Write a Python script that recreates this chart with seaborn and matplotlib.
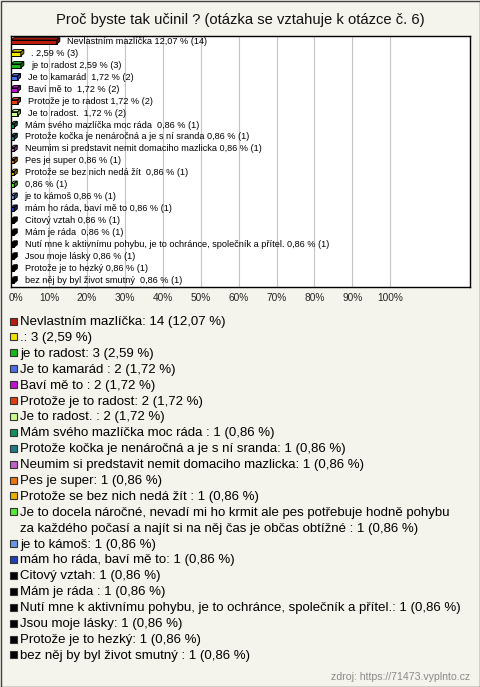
import textwrap
import numpy as np
import pandas as pd
import seaborn as sns
import matplotlib
matplotlib.use("Agg")
import matplotlib.pyplot as plt
from matplotlib.patches import Polygon, Rectangle
from matplotlib.transforms import ScaledTranslation

# ---------------- data ----------------
title = "Proč byste tak učinil ? (otázka se vztahuje k otázce č. 6)"
categories = [
    "Nevlastním mazlíčka",
    ".",
    "je to radost",
    "Je to kamarád ",
    "Baví mě to ",
    "Protože je to radost",
    "Je to radost. ",
    "Mám svého mazlíčka moc ráda ",
    "Protože kočka je nenáročná a je s ní sranda",
    "Neumim si predstavit nemit domaciho mazlicka",
    "Pes je super",
    "Protože se bez nich nedá žít ",
    "Je to docela náročné, nevadí mi ho krmit ale pes potřebuje hodně pohybu za každého počasí a najít si na něj čas je občas obtížné ",
    "je to kámoš",
    "mám ho ráda, baví mě to",
    "Citový vztah",
    "Mám je ráda ",
    "Nutí mne k aktivnímu pohybu, je to ochránce, společník a přítel.",
    "Jsou moje lásky",
    "Protože je to hezký",
    "bez něj by byl život smutný ",
]
# names as printed next to the bars (the long answer is shown without its text)
bar_names = list(categories)
bar_names[12] = ""
counts = [14, 3, 3, 2, 2, 2, 2, 1, 1, 1, 1, 1, 1, 1, 1, 1, 1, 1, 1, 1, 1]
percents = [12.07, 2.59, 2.59, 1.72, 1.72, 1.72, 1.72, 0.86, 0.86, 0.86, 0.86,
            0.86, 0.86, 0.86, 0.86, 0.86, 0.86, 0.86, 0.86, 0.86, 0.86]
colors = ["#B81D0D", "#F2E200", "#17B817", "#4A70E8", "#C013D3", "#E0400D",
          "#C8FF8A", "#139060", "#207A8A", "#C060C8", "#E87510", "#E8B000",
          "#58E838", "#6A96E8", "#2040B8", "#000000", "#000000", "#000000",
          "#000000", "#000000", "#000000"]
tick_values = list(range(0, 101, 10))
tick_labels = [f"{t}%" for t in tick_values]
source = "zdroj: https://71473.vyplnto.cz"

# ---------------- style ----------------
BG = "#F4F3EC"
W, H = 480, 687
sns.set_theme(style="white")
plt.rcParams["font.family"] = ["Liberation Sans", "DejaVu Sans"]

def fx(px):
    return px / W

def fy(py):
    return 1 - py / H

fig = plt.figure(figsize=(W / 100, H / 100), dpi=100, facecolor=BG)
ax = fig.add_axes([fx(11), fy(287), (470 - 11) / W, (287 - 36) / H])
ax.set_facecolor("white")

fmt = lambda v: f"{v:.2f}".replace(".", ",")
df = pd.DataFrame({"key": [f"r{i}" for i in range(len(categories))],
                   "pct": percents})
sns.barplot(data=df, x="pct", y="key", hue="key", palette=colors,
            legend=False, orient="h", width=0.32, saturation=1,
            edgecolor="black", linewidth=0.7, ax=ax, zorder=3)

ax.set_xlim(0, 121)
ax.set_ylim(len(categories) - 0.5, -0.5)
ax.set_xticks(tick_values)
ax.set_xticklabels(tick_labels, fontsize=7.3)
ax.set_yticks([])
ax.set_xlabel("")
ax.set_ylabel("")
ax.tick_params(axis="x", length=0, pad=4)
ax.grid(axis="x", color="#C4C4C4", lw=0.8)
ax.set_axisbelow(True)
for s in ax.spines.values():
    s.set_color("black")
    s.set_linewidth(1)

# nudge the 0% tick label right like in the original
lab0 = ax.get_xticklabels()[0]
lab0.set_transform(lab0.get_transform() + ScaledTranslation(0.05, 0, fig.dpi_scale_trans))

# 3D depth for each bar
dx = 3 * 121 / 459
dy = 2.4 * len(categories) / 251
patches = sorted(ax.patches, key=lambda p: p.get_y())
for p in patches:
    x0, y0, w, h = p.get_x(), p.get_y(), p.get_width(), p.get_height()
    fc = np.array(p.get_facecolor())
    dark = fc.copy()
    dark[:3] = dark[:3] * 0.6
    top = Polygon([(x0, y0), (x0 + w, y0), (x0 + w + dx, y0 - dy), (x0 + dx, y0 - dy)],
                  closed=True, facecolor=fc, edgecolor="black", lw=0.7, zorder=3)
    side = Polygon([(x0 + w, y0), (x0 + w, y0 + h), (x0 + w + dx, y0 + h - dy),
                    (x0 + w + dx, y0 - dy)],
                   closed=True, facecolor=dark, edgecolor="black", lw=0.7, zorder=3)
    ax.add_patch(top)
    ax.add_patch(side)

# labels next to bars
for i, (name, v, n) in enumerate(zip(bar_names, percents, counts)):
    txt = f"{name} {fmt(v)} % ({n})".strip()
    ax.annotate(txt, xy=(v, i - 0.05), xytext=(7.4, 0), textcoords="offset points",
                va="center", ha="left", fontsize=6.6, color="black", zorder=4)

# title
fig.text(0.5, fy(20), title, ha="center", va="center", fontsize=10.6, color="#111111")

# legend (manual)
line_h = 15.9
y0_px = 322.0
line = 0
for name, v, n, c in zip(categories, percents, counts, colors):
    label = f"{name}: {n} ({fmt(v)} %)"
    lines = textwrap.wrap(label, 72) if len(label) > 90 else [label]
    y_px = y0_px + line * line_h
    fig.add_artist(Rectangle((fx(9.5), fy(y_px + 2.5)), 7 / W, 7 / H,
                             transform=fig.transFigure, facecolor=c,
                             edgecolor="#333333", lw=0.8))
    for k, ln in enumerate(lines):
        fig.text(fx(20), fy(y_px + k * line_h), ln, ha="left", va="center",
                 fontsize=9.5, color="black")
    line += len(lines)

# source
fig.text(fx(470), fy(677), source, ha="right", va="center", fontsize=7.6,
         color="#8A8A8A")

# outer border
fig.add_artist(Rectangle((0.5 / W, 0.5 / H), 1 - 1 / W, 1 - 1 / H,
                         transform=fig.transFigure, fill=False,
                         edgecolor="#404040", lw=1))

fig.savefig("out.png", dpi=100, facecolor=BG)
